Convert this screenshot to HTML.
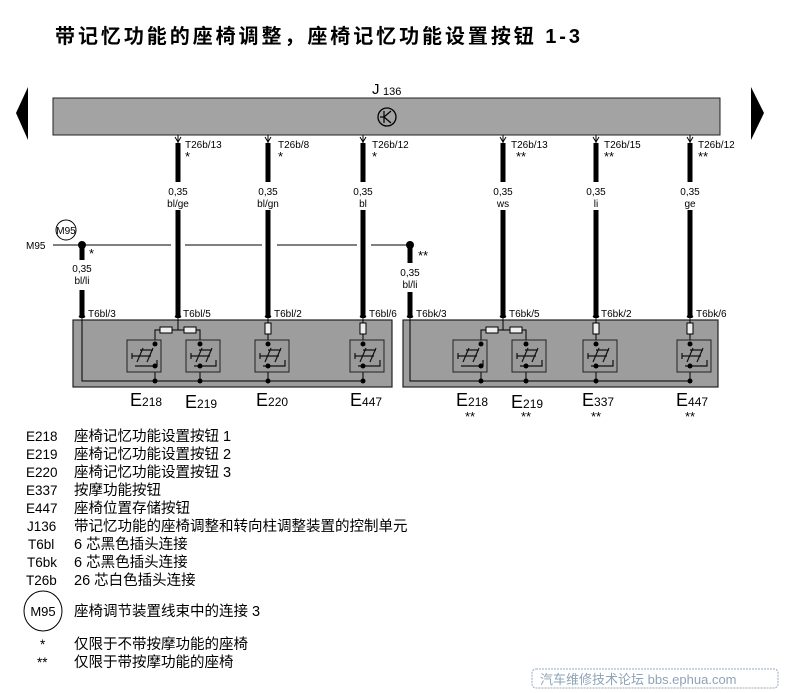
<!DOCTYPE html>
<html><head><meta charset="utf-8"><style>
html,body{margin:0;padding:0;background:#fff}
svg{display:block}
text{font-family:"Liberation Sans","Noto Sans CJK SC",sans-serif;fill:#000}
</style></head><body>
<svg width="789" height="693" viewBox="0 0 789 693" xmlns="http://www.w3.org/2000/svg">
<defs>
<g id="sw">
<rect x="0" y="0" width="34" height="32" fill="#9a9a9a" stroke="#222" stroke-width="1"/>
<path d="M5 16 H24 M5 13 V19 M10 22 L16 8 M20 22 L26 8 M13 10 H26 M8 26 H30 V20" stroke="#111" stroke-width="1.2" fill="none"/>
</g>
</defs>
<text x="55" y="43" font-size="20" font-weight="bold" letter-spacing="3" textLength="528">带记忆功能的座椅调整，座椅记忆功能设置按钮 1-3</text>

<polygon points="28,87 28,140 16,113" fill="#000"/>
<polygon points="751,87 751,140 764,113" fill="#000"/>
<rect x="53" y="98" width="667" height="37" fill="#a3a3a3" stroke="#222" stroke-width="1"/>
<text x="372" y="94" font-size="15">J</text><text x="383" y="95" font-size="11">136</text>
<circle cx="387" cy="117" r="9" fill="none" stroke="#000" stroke-width="1.3"/>
<path d="M384 111 V123 M384 117 L391 111 M384 117 L391 123 M384 117 H380" stroke="#000" stroke-width="1.2" fill="none"/>

<circle cx="66" cy="230" r="10" fill="#fff" stroke="#000"/>
<text x="66" y="234" font-size="10" text-anchor="middle">M95</text>
<text x="26" y="249" font-size="10">M95</text>
<path d="M53 245 H171 M185 245 H262 M277 245 H357 M371 245 H410" stroke="#000" stroke-width="1"/>

<g stroke="#000" stroke-width="5" fill="none">
<path d="M178 143 V182 M178 210 V318"/>
<path d="M268 143 V182 M268 210 V318"/>
<path d="M363 143 V182 M363 210 V318"/>
<path d="M503 143 V182 M503 210 V318"/>
<path d="M596 143 V182 M596 210 V318"/>
<path d="M690 143 V182 M690 210 V318"/>
<path d="M82 245 V260 M82 290 V318"/>
<path d="M410 245 V263 M410 292 V318"/>
</g>
<circle cx="82" cy="245" r="4"/>
<circle cx="410" cy="245" r="4"/>
<g font-size="10" text-anchor="middle">
<text x="178" y="195">0,35</text><text x="178" y="207">bl/ge</text>
<text x="268" y="195">0,35</text><text x="268" y="207">bl/gn</text>
<text x="363" y="195">0,35</text><text x="363" y="207">bl</text>
<text x="503" y="195">0,35</text><text x="503" y="207">ws</text>
<text x="596" y="195">0,35</text><text x="596" y="207">li</text>
<text x="690" y="195">0,35</text><text x="690" y="207">ge</text>
<text x="82" y="272">0,35</text><text x="82" y="284">bl/li</text>
<text x="410" y="276">0,35</text><text x="410" y="288">bl/li</text>
</g>
<g stroke="#000" stroke-width="1" fill="none">
<path d="M175 137 L178 142 L181 137 M178 135 V143"/>
<path d="M265 137 L268 142 L271 137 M268 135 V143"/>
<path d="M360 137 L363 142 L366 137 M363 135 V143"/>
<path d="M500 137 L503 142 L506 137 M503 135 V143"/>
<path d="M593 137 L596 142 L599 137 M596 135 V143"/>
<path d="M687 137 L690 142 L693 137 M690 135 V143"/>
</g>
<g font-size="10">
<text x="185" y="148">T26b/13</text><text x="185" y="161" font-size="13">*</text>
<text x="278" y="148">T26b/8</text><text x="278" y="161" font-size="13">*</text>
<text x="372" y="148">T26b/12</text><text x="372" y="161" font-size="13">*</text>
<text x="511" y="148">T26b/13</text><text x="516" y="161" font-size="13">**</text>
<text x="604" y="148">T26b/15</text><text x="604" y="161" font-size="13">**</text>
<text x="698" y="148">T26b/12</text><text x="698" y="161" font-size="13">**</text>
<text x="89" y="258" font-size="13">*</text>
<text x="418" y="260" font-size="13">**</text>
</g>
<g stroke="#000" stroke-width="1" fill="none">
<path d="M79 317 L82 312 L85 317 M82 312 V322"/>
<path d="M175 317 L178 312 L181 317 M178 312 V322"/>
<path d="M265 317 L268 312 L271 317 M268 312 V322"/>
<path d="M360 317 L363 312 L366 317 M363 312 V322"/>
<path d="M407 317 L410 312 L413 317 M410 312 V322"/>
<path d="M500 317 L503 312 L506 317 M503 312 V322"/>
<path d="M593 317 L596 312 L599 317 M596 312 V322"/>
<path d="M687 317 L690 312 L693 317 M690 312 V322"/>
</g>
<g font-size="10">
<text x="88" y="317">T6bl/3</text>
<text x="183" y="317">T6bl/5</text>
<text x="274" y="317">T6bl/2</text>
<text x="369" y="317">T6bl/6</text>
<text x="416" y="317">T6bk/3</text>
<text x="509" y="317">T6bk/5</text>
<text x="601" y="317">T6bk/2</text>
<text x="696" y="317">T6bk/6</text>
</g>

<rect x="73" y="320" width="319" height="67" fill="#9d9d9d" stroke="#222" stroke-width="1.2"/>
<rect x="403" y="320" width="315" height="67" fill="#9d9d9d" stroke="#222" stroke-width="1.2"/>

<g stroke="#000" stroke-width="1" fill="none">
<path d="M178 320 V330 M155 340 V330 H200 V340"/>
<path d="M82 320 V381 H363"/>
<path d="M155 372 V381 M200 372 V381 M268 372 V381 M363 372 V381"/>
<path d="M268 320 V340 M363 320 V340"/>
<path d="M503 320 V330 M481 340 V330 H526 V340"/>
<path d="M410 320 V381 H690"/>
<path d="M481 372 V381 M526 372 V381 M596 372 V381 M690 372 V381"/>
<path d="M596 320 V340 M690 320 V340"/>
</g>
<g fill="#eee" stroke="#000" stroke-width="1">
<rect x="160" y="327" width="12" height="6"/><rect x="184" y="327" width="12" height="6"/>
<rect x="265" y="323" width="6" height="11"/><rect x="360" y="323" width="6" height="11"/>
<rect x="486" y="327" width="12" height="6"/><rect x="510" y="327" width="12" height="6"/>
<rect x="593" y="323" width="6" height="11"/><rect x="687" y="323" width="6" height="11"/>
</g>
<use href="#sw" x="127" y="340"/>
<use href="#sw" x="186" y="340"/>
<use href="#sw" x="255" y="340"/>
<use href="#sw" x="350" y="340"/>
<use href="#sw" x="453" y="340"/>
<use href="#sw" x="512" y="340"/>
<use href="#sw" x="583" y="340"/>
<use href="#sw" x="677" y="340"/>
<g fill="#000">
<circle cx="155" cy="381" r="2.5"/><circle cx="200" cy="381" r="2.5"/><circle cx="268" cy="381" r="2.5"/><circle cx="363" cy="381" r="2.5"/>
<circle cx="481" cy="381" r="2.5"/><circle cx="526" cy="381" r="2.5"/><circle cx="596" cy="381" r="2.5"/><circle cx="690" cy="381" r="2.5"/>
<circle cx="155" cy="344" r="2.5"/><circle cx="200" cy="344" r="2.5"/><circle cx="268" cy="344" r="2.5"/><circle cx="363" cy="344" r="2.5"/>
<circle cx="481" cy="344" r="2.5"/><circle cx="526" cy="344" r="2.5"/><circle cx="596" cy="344" r="2.5"/><circle cx="690" cy="344" r="2.5"/>
<circle cx="155" cy="366" r="2.5"/><circle cx="200" cy="366" r="2.5"/><circle cx="268" cy="366" r="2.5"/><circle cx="363" cy="366" r="2.5"/>
<circle cx="481" cy="366" r="2.5"/><circle cx="526" cy="366" r="2.5"/><circle cx="596" cy="366" r="2.5"/><circle cx="690" cy="366" r="2.5"/>
</g>
<g font-size="18">
<text x="130" y="406">E<tspan font-size="12">218</tspan></text>
<text x="185" y="408">E<tspan font-size="12">219</tspan></text>
<text x="256" y="406">E<tspan font-size="12">220</tspan></text>
<text x="350" y="406">E<tspan font-size="12">447</tspan></text>
<text x="456" y="406">E<tspan font-size="12">218</tspan></text>
<text x="511" y="408">E<tspan font-size="12">219</tspan></text>
<text x="582" y="406">E<tspan font-size="12">337</tspan></text>
<text x="676" y="406">E<tspan font-size="12">447</tspan></text>
</g>
<g font-size="13">
<text x="465" y="421">**</text><text x="521" y="421">**</text><text x="591" y="421">**</text><text x="685" y="421">**</text>
</g>

<g font-size="13.5">
<text x="26" y="441">E218</text><text x="74" y="441" font-size="14.5">座椅记忆功能设置按钮 1</text>
<text x="26" y="459">E219</text><text x="74" y="459" font-size="14.5">座椅记忆功能设置按钮 2</text>
<text x="26" y="477">E220</text><text x="74" y="477" font-size="14.5">座椅记忆功能设置按钮 3</text>
<text x="26" y="495">E337</text><text x="74" y="495" font-size="14.5">按摩功能按钮</text>
<text x="26" y="513">E447</text><text x="74" y="513" font-size="14.5">座椅位置存储按钮</text>
<text x="27" y="531">J136</text><text x="74" y="531" font-size="14.5">带记忆功能的座椅调整和转向柱调整装置的控制单元</text>
<text x="28" y="549">T6bl</text><text x="74" y="549" font-size="14.5">6 芯黑色插头连接</text>
<text x="27" y="567">T6bk</text><text x="74" y="567" font-size="14.5">6 芯黑色插头连接</text>
<text x="26" y="585">T26b</text><text x="74" y="585" font-size="14.5">26 芯白色插头连接</text>
<text x="74" y="616" font-size="14.5">座椅调节装置线束中的连接 3</text>
<text x="40" y="649">*</text><text x="74" y="649" font-size="14.5">仅限于不带按摩功能的座椅</text>
<text x="37" y="667">**</text><text x="74" y="667" font-size="14.5">仅限于带按摩功能的座椅</text>
</g>
<ellipse cx="43" cy="611" rx="19" ry="20" fill="none" stroke="#000"/>
<text x="43" y="616" font-size="13" text-anchor="middle">M95</text>

<rect x="532" y="669" width="246" height="19" rx="4" fill="none" stroke="#9ab" stroke-dasharray="2,1"/>
<text x="540" y="684" font-size="13" style="fill:#8fa3b8">汽车维修技术论坛 bbs.ephua.com</text>
</svg>
</body></html>
